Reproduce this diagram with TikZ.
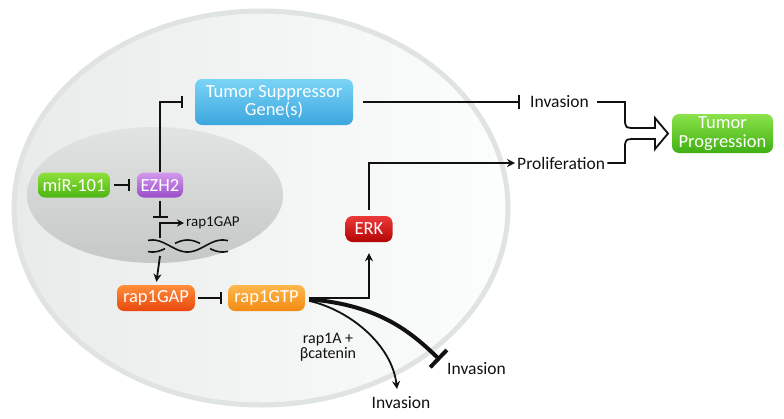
\documentclass[tikz,border=0pt]{standalone}
\usepackage{fontspec}
\setmainfont{Carlito}
\usetikzlibrary{arrows.meta,calc}
\definecolor{cellL}{HTML}{E9EBEB}
\definecolor{cellR}{HTML}{FCFDFD}
\definecolor{cellring}{HTML}{E0E3E3}
\definecolor{nucT}{HTML}{E2E3E3}
\definecolor{nucB}{HTML}{C6C8C8}
\definecolor{tsgT}{HTML}{7AD4F6}
\definecolor{tsgB}{HTML}{3CA6DE}
\definecolor{mirT}{HTML}{8EE03A}
\definecolor{mirB}{HTML}{4EB514}
\definecolor{ezhT}{HTML}{D39AEC}
\definecolor{ezhB}{HTML}{9A4CC8}
\definecolor{gapT}{HTML}{FF8E3A}
\definecolor{gapB}{HTML}{E9480E}
\definecolor{gtpT}{HTML}{FFB84A}
\definecolor{gtpB}{HTML}{F28A14}
\definecolor{erkT}{HTML}{EC3A3A}
\definecolor{erkB}{HTML}{B40404}
\definecolor{tpT}{HTML}{8CE24A}
\definecolor{tpB}{HTML}{3FB012}
\definecolor{ink}{HTML}{111111}
\begin{document}
\begin{tikzpicture}[x=1pt,y=-1pt,
  box/.style={rounded corners=7pt, text=white, font=\fontsize{18.5}{18.5}\selectfont, inner sep=0pt, align=center},
  lbl/.style={font=\fontsize{17.5}{18}\selectfont, inner sep=0pt, text=ink},
  conn/.style={line width=1.8pt, draw=ink},
  inh/.style={conn, -{Bar[width=12pt,line width=1.8pt]}},
  act/.style={conn, -{Stealth[length=8pt,width=8pt]}},
  strand/.style={conn, line width=1.6pt},
]
\useasboundingbox (0,0) rectangle (784,418);
% cell and nucleus
\path[left color=cellL, right color=cellR, draw=cellring, line width=5pt] (261,208) ellipse [x radius=247pt, y radius=197pt];
\path[shading angle=20, top color=nucT, bottom color=nucB] (155,195) ellipse [x radius=128pt, y radius=68pt];

% nodes
\node[box, minimum width=158pt, minimum height=46pt, top color=tsgT, bottom color=tsgB] (tsg) at (274,102) {Tumor Suppressor\\Gene(s)};
\node[box, minimum width=72pt, minimum height=25pt, top color=mirT, bottom color=mirB] (mir) at (74,185) {miR-101};
\node[box, minimum width=46pt, minimum height=25pt, top color=ezhT, bottom color=ezhB] (ezh) at (160,185) {EZH2};
\node[box, minimum width=78pt, minimum height=26pt, top color=gapT, bottom color=gapB] (gap) at (156,298) {rap1GAP};
\node[box, minimum width=77pt, minimum height=26pt, top color=gtpT, bottom color=gtpB] (gtp) at (266.5,298) {rap1GTP};
\node[box, minimum width=47pt, minimum height=26pt, top color=erkT, bottom color=erkB] (erk) at (369,229) {ERK};
\node[box, minimum width=101pt, minimum height=39pt, top color=tpT, bottom color=tpB] (tp) at (722.5,133.5) {Tumor\\Progression};

% labels
\node[lbl, anchor=west] (inv1) at (530,102) {Invasion};
\node[lbl, anchor=west] (prol) at (517,163) {Proliferation};
\node[lbl, anchor=west, font=\fontsize{15}{16}\selectfont] (ptxt) at (186,223) {rap1GAP};
\node[lbl, align=center, font=\fontsize{16}{15.5}\selectfont] (rb) at (328,347) {rap1A +\\βcatenin};
\node[lbl, anchor=west] (inv2) at (447,369) {Invasion};
\node[lbl] (inv3) at (401,403) {Invasion};

% coordinates
\coordinate (pbar) at (160,218);
\coordinate (pbase) at (160,238);
\coordinate (dnab) at (160,256);
\coordinate (ibar) at (440,360);
\coordinate (itip) at (397,389);
\coordinate (tip) at (668,133.5);

% connectors
\draw[inh, shorten <=4pt, shorten >=7pt] (mir) -- (ezh);
\draw[inh, shorten >=12pt] (ezh.north) |- (tsg.west);
\draw[inh, shorten <=3pt, -{Bar[width=15pt,line width=1.8pt]}] (ezh.south) -- (pbar);
\draw[conn, -{Stealth[length=7pt,width=7pt]}, shorten >=2pt] (pbase) |- (ptxt.west);
\draw[act, shorten >=3pt] (dnab) -- (gap.north);
\draw[inh, shorten <=3pt, shorten >=6pt] (gap) -- (gtp);
\draw[act, shorten <=4pt, shorten >=11pt] (gtp.east) -| (erk.south);
\draw[act, shorten <=6pt, shorten >=2pt] (erk.north) |- (prol.west);
\draw[inh, shorten <=10pt, shorten >=10pt, -{Bar[width=14pt,line width=1.8pt]}] (tsg.east) -- (inv1.west);

% DNA (one strand broken at the crossings)
\draw[strand] plot[domain=148:228, samples=60, smooth] (\x, {246 + 6*sin(180*(\x-170)/35)});
\draw[strand] plot[domain=148:165, samples=15, smooth] (\x, {246 - 6*sin(180*(\x-170)/35)});
\draw[strand] plot[domain=175:200, samples=20, smooth] (\x, {246 - 6*sin(180*(\x-170)/35)});
\draw[strand] plot[domain=210:228, samples=15, smooth] (\x, {246 - 6*sin(180*(\x-170)/35)});

% curves from rap1GTP
\draw[line width=4pt, draw=ink, -{Bar[width=24pt,line width=4pt]}, shorten <=4pt] ($(gtp.east)+(0,1)$) .. controls (380,305) and (412,333) .. (ibar);
\draw[conn, -{Stealth[length=8pt,width=8pt]}, shorten <=4pt] ($(gtp.east)+(0,2)$) .. controls (350,310) and (392,345) .. (itip);

% big hollow arrow
\draw[conn, line join=miter] ($(inv1.east)+(8,0)$) -- (625,102) -- (625,118) .. controls (625,128) .. (637,128) -- (655,128) -- (655,118) -- (tip) -- (655,149) -- (655,139) -- (637,139) .. controls (625,139) .. (625,149) -- (625,163) -- ($(prol.east)+(2,0)$);
\end{tikzpicture}
\end{document}
